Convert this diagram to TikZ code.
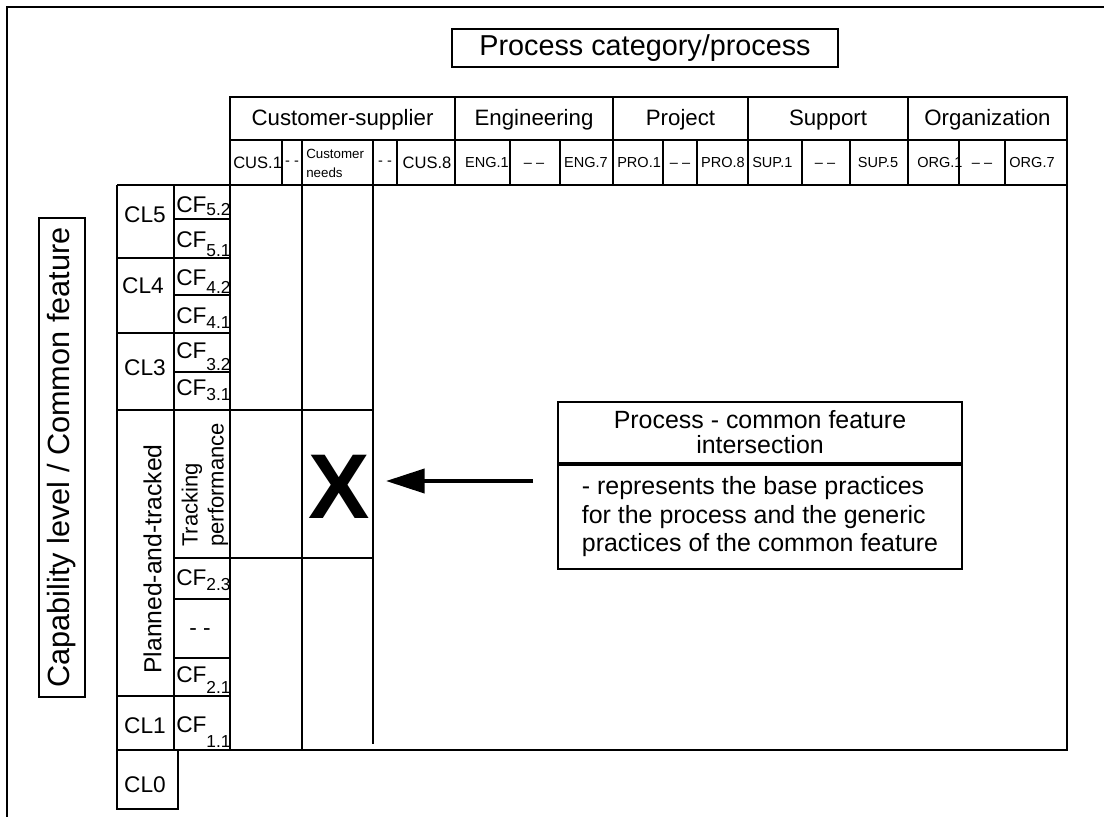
\documentclass[tikz,border=0pt]{standalone}
\usepackage{fontspec}
\setmainfont{Liberation Sans}
\usetikzlibrary{positioning}
\usetikzlibrary{arrows.meta}

\tikzset{
   grid/.style={line width=1.6pt},
   txt/.style={inner sep=0pt},
   cat/.style={txt, anchor=base, font=\fontsize{16.7}{18}\selectfont},
   code/.style={txt, anchor=base, font=\fontsize{10.9}{12}\selectfont},
   cus/.style={txt, anchor=base, font=\fontsize{12.4}{14}\selectfont},
   lvl/.style={txt, anchor=base, font=\fontsize{17}{18}\selectfont},
   feat/.style={txt, anchor=base west, font=\fontsize{17}{18}\selectfont},
   box/.style={draw, line width=1.5pt},
}
\newcommand{\cfsub}[2]{CF\raisebox{-#2pt}{\fontsize{13}{14}\selectfont #1}}

\begin{document}
\begin{tikzpicture}[x=0.75pt,y=-0.75pt]
   \useasboundingbox (0,0) rectangle (1104,817);

   % outer frame
   \draw[line width=2.2pt] (7,817) -- (7,7) -- (1104,7);

   % title
   \node[box, minimum width=290pt, minimum height=28pt,
         font=\fontsize{21.6}{24}\selectfont] (t0) at (645,48) {Process category/process};

   % category row
   \node[cat] (c1) at (342.5,126) {Customer-supplier};
   \node[cat] (c2) at (534,126)   {Engineering};
   \node[cat] (c3) at (680.5,126) {Project};
   \node[cat] (c4) at (828,126)   {Support};
   \node[cat] (c5) at (987.5,126) {Organization};

   % process row
   \node[cus, anchor=base west] (p1) at (233,168) {CUS.1};
   \node[code]                  (p2) at (292,166) {- -};
   \node[txt, anchor=base west, align=left,
         font=\fontsize{10}{14.25}\selectfont] (p3) at (306,177) {Customer\\needs};
   \node[code]                  (p4)  at (385,166)  {- -};
   \node[cus]                   (p5)  at (427,168)  {CUS.8};
   \node[code]                  (p6)  at (487,167)  {ENG.1};
   \node[code]                  (p7)  at (534,167)  {-- --};
   \node[code]                  (p8)  at (586,167)  {ENG.7};
   \node[code, anchor=base west](p9)  at (617,167)  {PRO.1};
   \node[code]                  (p10) at (680,167)  {-- --};
   \node[code]                  (p11) at (723,167)  {PRO.8};
   \node[code, anchor=base west](p12) at (752,167)  {SUP.1};
   \node[code]                  (p13) at (825,167)  {-- --};
   \node[code]                  (p14) at (878,167)  {SUP.5};
   \node[code, anchor=base west](p15) at (917,167)  {ORG.1};
   \node[code]                  (p16) at (982,167)  {-- --};
   \node[code]                  (p17) at (1032,167) {ORG.7};

   % capability levels
   \node[lvl] (l5) at (145,222) {CL5};
   \node[lvl] (l4) at (143,293) {CL4};
   \node[lvl] (l3) at (145,375) {CL3};
   \node[txt, rotate=90, font=\fontsize{18.5}{19}\selectfont] (l2) at (152.5,559) {Planned-and-tracked};
   \node[lvl] (l1) at (145,733) {CL1};
   \node[lvl] (l0) at (145,792) {CL0};

   % common features
   \node[feat] (f52) at (176,212) {\cfsub{5.2}{2.25}};
   \node[feat] (f51) at (176,247) {\cfsub{5.1}{6.75}};
   \node[feat] (f42) at (176,285) {\cfsub{4.2}{6}};
   \node[feat] (f41) at (176,323) {\cfsub{4.1}{3.75}};
   \node[feat] (f32) at (176,358) {\cfsub{3.2}{9}};
   \node[feat] (f31) at (176,395) {\cfsub{3.1}{3.75}};
   \node[txt, rotate=90, anchor=west, align=left,
         font=\fontsize{16.5}{19.5}\selectfont] (f24) at (205,547) {Tracking\\performance};
   \node[feat] (f23) at (176,585) {\cfsub{2.3}{3.75}};
   \node[txt, anchor=base, font=\fontsize{17}{18}\selectfont] (f22) at (200,635) {- -};
   \node[feat] (f21) at (176,682) {\cfsub{2.1}{8.25}};
   \node[feat] (f11) at (176,732) {\cfsub{1.1}{11.25}};

   % vertical label
   \node[box, rotate=90, minimum width=359pt, minimum height=34.5pt,
         font=\fontsize{23}{24}\selectfont] (cap) at (62,457.5) {Capability level / Common feature};

   % intersection
   \node[txt, font=\fontsize{69}{69}\selectfont\bfseries] (x0) at (339.5,486.5) {X};

   \node[box, minimum width=303pt, minimum height=45.75pt, align=center,
         font=\fontsize{18.7}{18.75}\selectfont] (b1) at (760,432.5)
         {Process - common feature\\intersection};
   \node[box, below=0pt of b1, minimum width=303pt, minimum height=78pt, align=left,
         font=\fontsize{18.7}{21.4}\selectfont] (b2)
         {- represents the base practices\\for the process and the generic\\practices of the common feature};

   \coordinate (a0) at (533,481);
   \coordinate (a1) at (386,481);
   \draw[line width=3pt, -{Triangle[length=29pt,width=18pt]}] (a0) -- (a1);

   % header rows
   \draw[grid] (230,97) rectangle (1067,185);
   \draw[grid] (230,140) -- (1067,140);
   \foreach \x in {455,613,748,908}
      \draw[grid] (\x,97) -- (\x,140);
   \foreach \x in {282,302,373,397,455,510,560,613,663,697,748,802,850,908,959,1005}
      \draw[grid] (\x,140) -- (\x,185);

   % matrix
   \draw[grid] (117,185) -- (1067,185) -- (1067,750) -- (117,750);
   \draw[grid] (117,185) -- (117,809) -- (178,809) -- (178,750);
   \draw[grid] (174,185) -- (174,750);
   \draw[grid] (230,185) -- (230,750);
   \draw[grid] (302,185) -- (302,750);
   \draw[grid] (373,185) -- (373,744);
   \foreach \y in {258,333,696}
      \draw[grid] (117,\y) -- (230,\y);
   \foreach \y in {219,295,372,599,658}
      \draw[grid] (174,\y) -- (230,\y);
   \draw[grid] (117,410) -- (373,410);
   \draw[grid] (174,558) -- (373,558);
\end{tikzpicture}
\end{document}
